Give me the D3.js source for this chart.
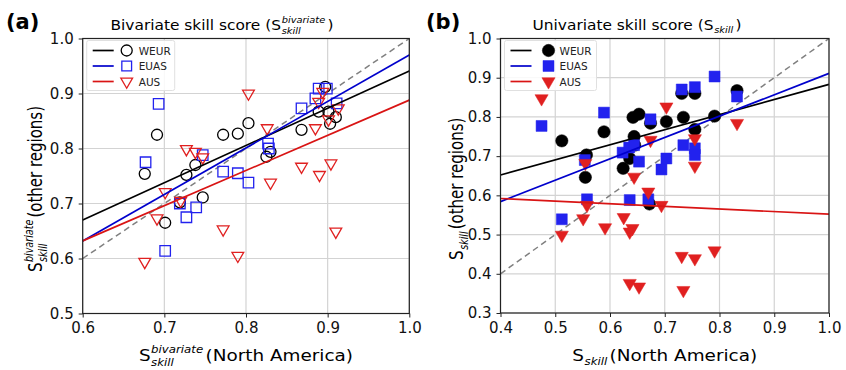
<!DOCTYPE html>
<html>
<head>
<meta charset="utf-8">
<script src="https://cdn.jsdelivr.net/npm/d3@7"></script>
<style>
  body { margin: 0; background: #fff; }
  svg { font-family: "DejaVu Sans", sans-serif; }
</style>
</head>
<body>
<svg id="chart" width="846" height="370"></svg>
<script>
// ---- data ----
const regions = ["WEUR", "EUAS", "AUS"];

// panel (a): bivariate skill score, [North America, other region]
const bivWEUR = [
  [0.691, 0.825], [0.676, 0.754], [0.727, 0.752], [0.738, 0.770], [0.772, 0.825],
  [0.790, 0.827], [0.803, 0.846], [0.825, 0.785], [0.830, 0.794], [0.868, 0.834],
  [0.889, 0.867], [0.901, 0.867], [0.903, 0.845], [0.910, 0.857], [0.897, 0.912],
  [0.701, 0.665], [0.747, 0.711], [0.719, 0.702],
];
const bivEUAS = [
  [0.693, 0.881], [0.677, 0.775], [0.747, 0.788], [0.772, 0.758], [0.790, 0.755],
  [0.803, 0.738], [0.827, 0.809], [0.828, 0.800], [0.868, 0.873], [0.885, 0.891],
  [0.889, 0.909], [0.899, 0.909], [0.911, 0.882], [0.719, 0.700], [0.727, 0.675],
  [0.739, 0.693], [0.701, 0.614],
];
const bivAUS = [
  [0.727, 0.799], [0.738, 0.794], [0.747, 0.784], [0.803, 0.900], [0.826, 0.837],
  [0.889, 0.885], [0.894, 0.903], [0.885, 0.837], [0.901, 0.853], [0.913, 0.873],
  [0.868, 0.767], [0.890, 0.752], [0.904, 0.773], [0.830, 0.738], [0.701, 0.721],
  [0.720, 0.705], [0.691, 0.673], [0.676, 0.594], [0.772, 0.653], [0.790, 0.605],
  [0.910, 0.649],
];
// regression lines, value at x = 0.6 and x = 1.0
const bivFits = [[0.670, 0.941], [0.632, 0.970], [0.632, 0.888]];

// panel (b): univariate skill score
const uniWEUR = [
  [0.512, 0.739], [0.589, 0.762], [0.555, 0.646], [0.557, 0.703], [0.624, 0.669],
  [0.636, 0.694], [0.644, 0.750], [0.642, 0.799], [0.653, 0.807], [0.674, 0.784],
  [0.703, 0.788], [0.645, 0.728], [0.734, 0.799], [0.755, 0.860], [0.731, 0.860],
  [0.755, 0.768], [0.791, 0.802], [0.832, 0.867], [0.672, 0.578],
];
const uniEUAS = [
  [0.475, 0.777], [0.589, 0.811], [0.674, 0.794], [0.554, 0.690], [0.623, 0.709],
  [0.635, 0.722], [0.644, 0.728], [0.653, 0.686], [0.694, 0.666], [0.703, 0.694],
  [0.731, 0.870], [0.755, 0.876], [0.791, 0.903], [0.832, 0.852], [0.734, 0.728],
  [0.755, 0.720], [0.755, 0.703], [0.558, 0.590], [0.512, 0.539], [0.636, 0.588],
  [0.670, 0.590],
];
const uniAUS = [
  [0.475, 0.847], [0.555, 0.682], [0.674, 0.741], [0.644, 0.647], [0.703, 0.826],
  [0.832, 0.784], [0.755, 0.745], [0.755, 0.675], [0.558, 0.575], [0.512, 0.499],
  [0.551, 0.541], [0.591, 0.518], [0.625, 0.544], [0.641, 0.516], [0.636, 0.507],
  [0.670, 0.609], [0.694, 0.575], [0.636, 0.376], [0.653, 0.367], [0.731, 0.445],
  [0.755, 0.439], [0.791, 0.459], [0.734, 0.358],
];
// regression lines, value at x = 0.4 and x = 1.0
const uniFits = [[0.652, 0.883], [0.584, 0.911], [0.592, 0.552]];

const ticksA = { x: [0.6, 0.7, 0.8, 0.9, 1.0], y: [0.5, 0.6, 0.7, 0.8, 0.9, 1.0] };
const ticksB = { x: [0.4, 0.5, 0.6, 0.7, 0.8, 0.9, 1.0], y: [0.3, 0.4, 0.5, 0.6, 0.7, 0.8, 0.9, 1.0] };

const COLORS = { line: ["#000000", "#0000cc", "#d91414"], mark: ["#000000", "#2222ee", "#e02020"] };
const SHAPES = [d3.symbolCircle, d3.symbolSquare, d3.symbolTriangle];

const svg = d3.select("#chart");

// S with stacked super/subscript, e.g. S^bivariate_skill
// the reference text is a bit wider than DejaVu, so it gets stretched by k
function richText(parent, { x, y, rotate = 0, size, k = 1, base, sup, sub, rest }) {
  const g = parent.append("g").attr("transform", `translate(${x},${y}) rotate(${rotate})`);
  const t = g.append("g");
  const s = t.append("text").attr("x", 0).attr("y", 0).style("font-size", size + "px").text(base);
  let cx = s.node().getComputedTextLength() + 0.5;
  const small = size * 0.64;
  let w = 0;
  if (sup) {
    const e = t.append("text").attr("x", cx).attr("y", -size * 0.48)
      .style("font-size", small + "px").style("font-style", "italic").text(sup);
    w = Math.max(w, e.node().getComputedTextLength());
  }
  if (sub) {
    const e = t.append("text").attr("x", cx).attr("y", size * (sup ? 0.29 : 0.24))
      .style("font-size", small + "px").style("font-style", "italic").text(sub);
    w = Math.max(w, e.node().getComputedTextLength());
  }
  cx += w + 2;
  const r = t.append("text").attr("x", cx).attr("y", 0).style("font-size", size + "px").text(rest);
  cx += r.node().getComputedTextLength();
  const stretch = rotate ? `scale(1,${k})` : `scale(${k},1)`;
  t.attr("transform", `${stretch} translate(${-cx / 2},0)`);
  return g;
}

function panel({ left, right, top, bottom, xDomain, yDomain, ticks, sets, fits, filled, tag, tagX, title, titleX, xLabel, yLabel, yLabelX, legendW }) {
  const x = d3.scaleLinear().domain(xDomain).range([left, right]);
  const y = d3.scaleLinear().domain(yDomain).range([bottom, top]);
  const g = svg.append("g");

  // grid
  g.append("g").selectAll("line").data(ticks.x).join("line")
    .attr("x1", (d) => x(d)).attr("x2", (d) => x(d)).attr("y1", top).attr("y2", bottom)
    .attr("stroke", "#d3d3d3").attr("stroke-width", 1.2);
  g.append("g").selectAll("line").data(ticks.y).join("line")
    .attr("y1", (d) => y(d)).attr("y2", (d) => y(d)).attr("x1", left).attr("x2", right)
    .attr("stroke", "#d3d3d3").attr("stroke-width", 1.2);

  // 1:1 line
  const lo = Math.max(xDomain[0], yDomain[0]);
  g.append("line")
    .attr("x1", x(lo)).attr("y1", y(lo)).attr("x2", x(1)).attr("y2", y(1))
    .attr("stroke", "#808080").attr("stroke-width", 1.5).attr("stroke-dasharray", "6,4");

  // markers
  sets.forEach((pts, i) => {
    const size = i === 0 ? (filled ? 120 : 95) : i === 1 ? (filled ? 120 : 110) : (filled ? 75 : 60);
    g.append("g").selectAll("path").data(pts).join("path")
      .attr("d", d3.symbol().type(SHAPES[i]).size(size))
      .attr("transform", (d) => `translate(${x(d[0])},${y(d[1])})` + (i === 2 ? " rotate(180)" : ""))
      .attr("fill", filled ? COLORS.mark[i] : "none")
      .attr("stroke", COLORS.mark[i])
      .attr("stroke-width", filled ? 0.5 : 1.3);
  });

  // regression lines
  fits.forEach((f, i) => {
    g.append("line")
      .attr("x1", x(xDomain[0])).attr("y1", y(f[0]))
      .attr("x2", x(xDomain[1])).attr("y2", y(f[1]))
      .attr("stroke", COLORS.line[i]).attr("stroke-width", 1.7);
  });

  // frame + axes
  g.append("rect").attr("x", left).attr("y", top).attr("width", right - left).attr("height", bottom - top)
    .attr("fill", "none").attr("stroke", "#222").attr("stroke-width", 1.2);
  const xAxis = g.append("g").attr("transform", `translate(0,${bottom})`)
    .call(d3.axisBottom(x).tickValues(ticks.x).tickFormat(d3.format(".1f")).tickSize(4).tickPadding(5).tickSizeOuter(0));
  const yAxis = g.append("g").attr("transform", `translate(${left},0)`)
    .call(d3.axisLeft(y).tickValues(ticks.y).tickFormat(d3.format(".1f")).tickSize(4).tickPadding(5).tickSizeOuter(0));
  [xAxis, yAxis].forEach((a) => {
    a.select(".domain").remove();
    a.selectAll("text").style("font-size", "15px").style("font-family", "DejaVu Sans, sans-serif").attr("fill", "#111");
    a.selectAll("line").attr("stroke", "#222");
  });

  // legend
  const lg = g.append("g").attr("transform", `translate(${left + 4},${top + 2})`);
  lg.append("rect").attr("width", legendW).attr("height", 50).attr("rx", 2)
    .attr("fill", "#fff").attr("fill-opacity", 0.85).attr("stroke", "#e0e0e0");
  regions.forEach((r, i) => {
    const ry = 10 + i * 15.5;
    lg.append("line").attr("x1", 6).attr("x2", 27).attr("y1", ry).attr("y2", ry)
      .attr("stroke", COLORS.line[i]).attr("stroke-width", 1.7);
    lg.append("path")
      .attr("d", d3.symbol().type(SHAPES[i]).size(i === 2 ? (filled ? 75 : 60) : (filled ? 120 : 95)))
      .attr("transform", `translate(${filled ? 44 : 40},${ry})` + (i === 2 ? " rotate(180)" : ""))
      .attr("fill", filled ? COLORS.mark[i] : "none")
      .attr("stroke", COLORS.mark[i]).attr("stroke-width", filled ? 0.5 : 1.3);
    lg.append("text").attr("x", filled ? 55 : 52).attr("y", ry + 4)
      .style("font-size", "10.5px").attr("fill", "#222").text(r);
  });

  // panel tag and title
  svg.append("text").attr("x", tagX).attr("y", 29).style("font-size", "21px").style("font-weight", "bold").text(tag);
  richText(svg, { x: titleX, y: 30, size: 14, k: 1.1, ...title });
  richText(svg, { x: (left + right) / 2, y: 361, size: 16, k: 1.15, ...xLabel });
  richText(svg, { x: yLabelX, y: (top + bottom) / 2 + 13, rotate: -90, size: 15, k: 1.25, ...yLabel });
}

panel({
  left: 82.7, right: 409.3, top: 38.5, bottom: 313.5,
  xDomain: [0.6, 1.0], yDomain: [0.5, 1.0], ticks: ticksA,
  sets: [bivWEUR, bivEUAS, bivAUS], fits: bivFits, filled: false,
  tag: "(a)", tagX: 6, titleX: 222, legendW: 88,
  title: { base: "Bivariate skill score (S", sup: "bivariate", sub: "skill", rest: ")" },
  xLabel: { base: "S", sup: "bivariate", sub: "skill", rest: "(North America)" },
  yLabel: { base: "S", sup: "bivariate", sub: "skill", rest: " (other regions)" },
  yLabelX: 42,
});

panel({
  left: 500.5, right: 829, top: 38.5, bottom: 313,
  xDomain: [0.4, 1.0], yDomain: [0.3, 1.0], ticks: ticksB,
  sets: [uniWEUR, uniEUAS, uniAUS], fits: uniFits, filled: true,
  tag: "(b)", tagX: 426, titleX: 637, legendW: 92,
  title: { base: "Univariate skill score (S", sub: "skill", rest: ")" },
  xLabel: { base: "S", sub: "skill", rest: " (North America)" },
  yLabel: { base: "S", sub: "skill", rest: " (other regions)" },
  yLabelX: 463,
});
</script>
</body>
</html>
